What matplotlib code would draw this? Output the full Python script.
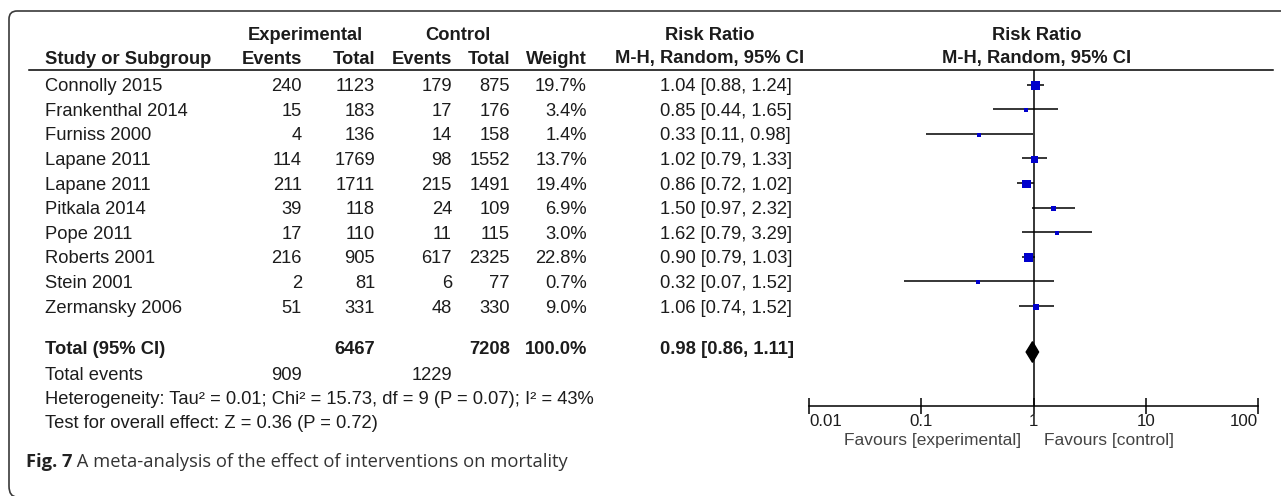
import numpy as np
import matplotlib
matplotlib.use("Agg")
import matplotlib.pyplot as plt
from matplotlib.path import Path
from matplotlib.patches import PathPatch, Polygon

# data
studies = ["Connolly 2015", "Frankenthal 2014", "Furniss 2000", "Lapane 2011", "Lapane 2011",
           "Pitkala 2014", "Pope 2011", "Roberts 2001", "Stein 2001", "Zermansky 2006"]
exp_events = [240, 15, 4, 114, 211, 39, 17, 216, 2, 51]
exp_total = [1123, 183, 136, 1769, 1711, 118, 110, 905, 81, 331]
ctrl_events = [179, 17, 14, 98, 215, 24, 11, 617, 6, 48]
ctrl_total = [875, 176, 158, 1552, 1491, 109, 115, 2325, 77, 330]
weights = [19.7, 3.4, 1.4, 13.7, 19.4, 6.9, 3.0, 22.8, 0.7, 9.0]
rr = [1.04, 0.85, 0.33, 1.02, 0.86, 1.50, 1.62, 0.90, 0.32, 1.06]
rr_low = [0.88, 0.44, 0.11, 0.79, 0.72, 0.97, 0.79, 0.79, 0.07, 0.74]
rr_high = [1.24, 1.65, 0.98, 1.33, 1.02, 2.32, 3.29, 1.03, 1.52, 1.52]

total_exp = 6467
total_ctrl = 7208
total_weight = 100.0
events_exp = 909
events_ctrl = 1229
pooled = [0.98, 0.86, 1.11]
heterogeneity = "Heterogeneity: Tau² = 0.01; Chi² = 15.73, df = 9 (P = 0.07); I² = 43%"
overall = "Test for overall effect: Z = 0.36 (P = 0.72)"
ticks = [0.01, 0.1, 1, 10, 100]
tick_labels = ["0.01", "0.1", "1", "10", "100"]
caption_bold = "Fig. 7"
caption = " A meta-analysis of the effect of interventions on mortality"

W, H = 1281, 496
FONT = "Liberation Sans"
FS = 13.2
FS_AX = 12.2
INK = "#1c1c1c"

fig = plt.figure(figsize=(W / 100, H / 100), dpi=100)
bg = fig.add_axes([0, 0, 1, 1])
bg.set_xlim(0, W)
bg.set_ylim(H, 0)
bg.axis("off")

# rounded frame (left and top edges)
verts = [(17, 497), (9, 497), (9, 486), (9, 19), (9, 11), (17, 11), (1295, 11)]
codes = [Path.MOVETO, Path.CURVE3, Path.CURVE3, Path.LINETO, Path.CURVE3, Path.CURVE3, Path.LINETO]
bg.add_patch(PathPatch(Path(verts, codes), fill=False, edgecolor="#3a3a3a", lw=1.2))

# column positions (pixels)
x_name = 45
x_ee, x_et, x_ce, x_ct, x_w = 302, 375, 452, 510, 587
x_rr = 660
x_rr_head = 710
x_plot_head = 1037
y_h1, y_h2, y_line = 35, 59, 70
row0, step = 86.7, 24.6
y_total, y_events, y_het, y_test, y_cap = 350, 375, 399, 423, 462


def txt(x, y, s, ha="left", bold=False, **kw):
    bg.text(x, y, s, ha=ha, va="center", fontsize=FS, family=FONT, color=INK,
            fontweight="bold" if bold else "normal", **kw)


# headers
txt(305, y_h1, "Experimental", ha="center", bold=True)
txt(458, y_h1, "Control", ha="center", bold=True)
txt(x_rr_head, y_h1, "Risk Ratio", ha="center", bold=True)
txt(x_plot_head, y_h1, "Risk Ratio", ha="center", bold=True)
txt(x_name, y_h2, "Study or Subgroup", bold=True)
txt(x_ee, y_h2, "Events", ha="right", bold=True)
txt(x_et, y_h2, "Total", ha="right", bold=True)
txt(x_ce, y_h2, "Events", ha="right", bold=True)
txt(x_ct, y_h2, "Total", ha="right", bold=True)
txt(x_w, y_h2, "Weight", ha="right", bold=True)
txt(x_rr_head, y_h2, "M-H, Random, 95% CI", ha="center", bold=True)
txt(x_plot_head, y_h2, "M-H, Random, 95% CI", ha="center", bold=True)
bg.plot([29, 1273], [y_line, y_line], color="black", lw=1.1)

# study rows
for i, name in enumerate(studies):
    y = row0 + step * i
    txt(x_name, y, name)
    txt(x_ee, y, str(exp_events[i]), ha="right")
    txt(x_et, y, str(exp_total[i]), ha="right")
    txt(x_ce, y, str(ctrl_events[i]), ha="right")
    txt(x_ct, y, str(ctrl_total[i]), ha="right")
    txt(x_w, y, f"{weights[i]:.1f}%", ha="right")
    txt(x_rr, y, f"{rr[i]:.2f} [{rr_low[i]:.2f}, {rr_high[i]:.2f}]")

# totals
txt(x_name, y_total, "Total (95% CI)", bold=True)
txt(x_et, y_total, str(total_exp), ha="right", bold=True)
txt(x_ct, y_total, str(total_ctrl), ha="right", bold=True)
txt(x_w, y_total, f"{total_weight:.1f}%", ha="right", bold=True)
txt(x_rr, y_total, f"{pooled[0]:.2f} [{pooled[1]:.2f}, {pooled[2]:.2f}]", bold=True)
txt(x_name, y_events, "Total events")
txt(x_ee, y_events, str(events_exp), ha="right")
txt(x_ce, y_events, str(events_ctrl), ha="right")
txt(x_name, y_het, heterogeneity)
txt(x_name, y_test, overall)

# caption
cb = bg.text(26, y_cap, caption_bold, ha="left", va="center", fontsize=FS, family="Open Sans",
             fontweight="bold", color="#222222")
bg.annotate(caption, xy=(1, 0), xycoords=cb, va="bottom", ha="left", fontsize=FS,
            family="Open Sans", color="#333333")

# forest plot axes
ax_left, ax_right, ax_top, ax_bot = 809, 1258, y_line, 406
ax = fig.add_axes([ax_left / W, 1 - ax_bot / H, (ax_right - ax_left) / W, (ax_bot - ax_top) / H])
ax.patch.set_alpha(0)
ax.set_xscale("log")
ax.set_xlim(ticks[0], ticks[-1])
ci_off = 2.2
ax.set_ylim((ax_bot - row0 + ci_off) / step, (ax_top - row0 + ci_off) / step)

rows = np.arange(len(studies))
ax.axvline(1, color="black", lw=1.1, zorder=1)
ax.hlines(rows, rr_low, rr_high, color="black", lw=1.1, zorder=2)
side = np.maximum(4.0, 9.5 * np.sqrt(np.array(weights) / max(weights)))
ax.scatter(rr, rows + 0.04, marker="s", s=(side * 0.72) ** 2, color="#0000cc", linewidths=0, zorder=3)

yt = (y_total + 2 - row0 + ci_off) / step
hh = 0.42
ax.add_patch(Polygon([(pooled[1], yt), (pooled[0], yt - hh), (pooled[2], yt), (pooled[0], yt + hh)],
                     closed=True, color="black", zorder=4))

for s in ["top", "right", "left"]:
    ax.spines[s].set_visible(False)
ax.spines["bottom"].set_linewidth(1.1)
ax.set_yticks([])
ax.set_xticks(ticks)
ax.set_xticklabels(tick_labels, family=FONT, fontsize=FS_AX, color=INK)
ax.minorticks_off()
ax.tick_params(axis="x", direction="inout", length=11, width=1.1, pad=0.5)
labs = ax.get_xticklabels()
labs[0].set_ha("left")
labs[-1].set_ha("right")

ax.annotate("Favours [experimental]", xy=(1, 0), xycoords=("data", "axes fraction"),
            xytext=(-12, -35), textcoords="offset pixels", ha="right", va="center",
            fontsize=FS_AX + 0.3, family=FONT, color="#444444")
ax.annotate("Favours [control]", xy=(1, 0), xycoords=("data", "axes fraction"),
            xytext=(10, -35), textcoords="offset pixels", ha="left", va="center",
            fontsize=FS_AX + 0.3, family=FONT, color="#444444")

fig.savefig("out.png", dpi=100)
